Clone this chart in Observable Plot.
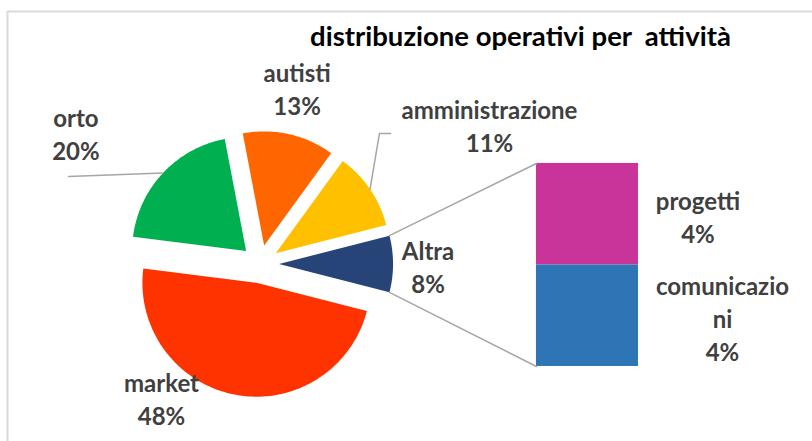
<!DOCTYPE html>
<html><head><meta charset="utf-8">
<script src="https://cdn.jsdelivr.net/npm/d3@7"></script>
<script src="https://cdn.jsdelivr.net/npm/@observablehq/plot@0.6"></script>
<style>body{margin:0;background:#fff}</style>
</head><body><div id="chart"></div>
<script>
// ---- data ----
const title = "distribuzione operativi per\u00a0 attività";
const categories = ["market", "orto", "autisti", "amministrazione", "Altra"];
const values = [48, 20, 13, 11, 8];
const otherCategories = ["progetti", "comunicazioni"];
const otherValues = [4, 4];
const otherLabels = ["progetti", "comunicazio\nni"];
const sliceColors = ["#FF3300", "#00B050", "#FF6600", "#FFC000", "#264478"];
const otherColors = ["#C9349A", "#2E75B6"];

// ---- layout (units = pie radius, origin = pie centre) ----
const W = 812, H = 441, CX = 259.5, CY = 263.5, R = 114;
const explode = 0.167;
const bar = {x1: 2.425, x2: 3.32, top: 0.882, perPct: 0.2226};
const labelPos = [
  [-0.864, -1.171], [-1.615, 1.153], [0.325, 1.544], [2.013, 1.219], [1.474, -0.013]
];
const otherLabelPos = [[3.842, 0.421], [4.057, -0.469]];
const leaderEnds = {orto: [[-1.680, 0.768]], amministrazione: [[1.048, 1.145], [1.145, 1.145]]};
const titlePos = [2.285, 1.987];
const frameTL = [-2.215, 2.215];

// ---- geometry ----
const total = d3.sum(values);
const deg = Math.PI / 180;
const otherShare = values[values.length - 1] / total * 360;
let a = 90 + otherShare / 2; // first slice starts right after "Altra", which faces the bar
const slices = categories.map((name, i) => {
  const a0 = a, a1 = a + values[i] / total * 360; a = a1;
  const mid = (a0 + a1) / 2 * deg;
  const ox = explode * Math.sin(mid), oy = explode * Math.cos(mid);
  const pts = [{x: ox, y: oy}];
  const n = Math.max(8, Math.ceil(a1 - a0));
  for (let k = 0; k <= n; k++) {
    const t = (a0 + (a1 - a0) * k / n) * deg;
    pts.push({x: ox + Math.sin(t), y: oy + Math.cos(t)});
  }
  pts.push({x: ox, y: oy});
  return {name, value: values[i], color: sliceColors[i], pts, a0, a1, ox, oy, mid,
    arcMid: {x: ox + Math.sin(mid), y: oy + Math.cos(mid)},
    start: pts[1], end: pts[pts.length - 2]};
});
const altra = slices[slices.length - 1];
const otherTotal = d3.sum(otherValues);
let cum = 0;
const otherRects = otherCategories.map((name, i) => {
  const y2 = bar.top - cum * bar.perPct; cum += otherValues[i];
  const y1 = bar.top - cum * bar.perPct;
  return {name, x1: bar.x1, x2: bar.x2, y1, y2, fill: otherColors[i]};
});
const barBottom = bar.top - otherTotal * bar.perPct;
const connectors = [
  [altra.start, {x: bar.x1, y: bar.top}],
  [altra.end, {x: bar.x1, y: barBottom}]
];
const leaders = [
  [slices[1].arcMid, ...leaderEnds.orto.map(([x, y]) => ({x, y}))],
  [slices[3].arcMid, ...leaderEnds.amministrazione.map(([x, y]) => ({x, y}))]
];
const labels = slices.map((s, i) => ({x: labelPos[i][0], y: labelPos[i][1], text: `${s.name}\n${Math.round(s.value / total * 100)}%`}));
otherCategories.forEach((c, i) => labels.push({x: otherLabelPos[i][0], y: otherLabelPos[i][1], text: `${otherLabels[i]}\n${Math.round(otherValues[i] / total * 100)}%`}));

const font = "Lato, 'Open Sans', sans-serif";
const chart = Plot.plot({
  width: W, height: H, margin: 0,
  x: {domain: [-CX / R, (W - CX) / R], axis: null},
  y: {domain: [-(H - CY) / R, CY / R], axis: null},
  style: {background: "#fff"},
  marks: [
    Plot.ruleY([frameTL[1]], {x1: frameTL[0], x2: (W - CX) / R + 1, stroke: "#d9d9d9", strokeWidth: 2}),
    Plot.ruleX([frameTL[0]], {y1: frameTL[1], y2: -(H - CY) / R - 1, stroke: "#d9d9d9", strokeWidth: 2}),
    ...slices.map(s => Plot.line(s.pts, {x: "x", y: "y", fill: s.color, stroke: "none", curve: "linear"})),
    Plot.rect(otherRects, {x1: "x1", x2: "x2", y1: "y1", y2: "y2", fill: "fill"}),
    ...connectors.map(c => Plot.line(c, {x: "x", y: "y", stroke: "#a6a6a6", strokeWidth: 1.5})),
    ...leaders.map(c => Plot.line(c, {x: "x", y: "y", stroke: "#a6a6a6", strokeWidth: 1.5})),
    Plot.text(labels, {x: "x", y: "y", text: "text", fontSize: 24, fontWeight: "bold", fontFamily: font, fill: "#404040", lineHeight: 1.38}),
    Plot.text([title], {x: () => titlePos[0], y: () => titlePos[1], text: d => d, fontSize: 27.5, fontWeight: "bold", fontFamily: font, fill: "#000"})
  ]
});
document.getElementById("chart").appendChild(chart);
</script></body></html>
